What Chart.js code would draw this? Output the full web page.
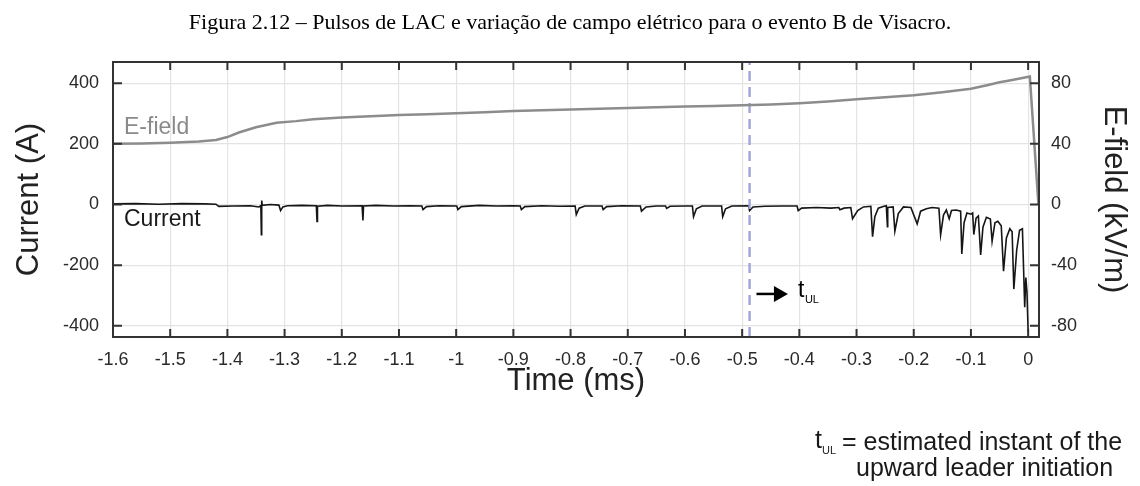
<!DOCTYPE html>
<html lang="pt-br">
<head>
    <meta charset="UTF-8">
    <title>Figura 2.12 - Pulsos de LAC</title>
    <script src="https://cdn.jsdelivr.net/npm/chart.js"></script>
    <style>
        body { margin: 0; background: white; }
        canvas { display: block; }
    </style>
</head>
<body>
    <canvas id="grafico" width="1140" height="486"></canvas>
<script>
    // eixo x (ms)
    const xTicks = [-1.6, -1.5, -1.4, -1.3, -1.2, -1.1, -1, -0.9, -0.8, -0.7, -0.6, -0.5, -0.4, -0.3, -0.2, -0.1, 0];
    const correnteTicks = [-400, -200, 0, 200, 400];
    const campoTicks = [-80, -40, 0, 40, 80];

    // corrente (A)
    const correnteT = [
        -1.600, -1.560, -1.520, -1.480, -1.440, -1.420, -1.415, -1.390, -1.360, -1.345,
        -1.3415, -1.3406, -1.3400, -1.3390, -1.325, -1.310, -1.307, -1.303, -1.295, -1.270,
        -1.2445, -1.2433, -1.2425, -1.225, -1.200, -1.1645, -1.163, -1.162, -1.140, -1.110,
        -1.080, -1.060, -1.058, -1.052, -1.030, -0.999, -0.997, -0.991, -0.960, -0.930,
        -0.900, -0.888, -0.886, -0.880, -0.850, -0.820, -0.792, -0.790, -0.785, -0.775,
        -0.745, -0.743, -0.737, -0.710, -0.678, -0.676, -0.668, -0.650, -0.634, -0.632,
        -0.626, -0.600, -0.587, -0.585, -0.580, -0.570, -0.536, -0.534, -0.529, -0.518,
        -0.489, -0.487, -0.481, -0.460, -0.430, -0.404, -0.402, -0.396, -0.370, -0.345,
        -0.331, -0.329, -0.322, -0.310, -0.307, -0.298, -0.288, -0.275, -0.272, -0.268,
        -0.262, -0.252, -0.248, -0.246, -0.2455, -0.236, -0.233, -0.227, -0.218, -0.205,
        -0.194, -0.188, -0.178, -0.168, -0.156, -0.153, -0.148, -0.143, -0.138, -0.134,
        -0.126, -0.118, -0.116, -0.112, -0.107, -0.100, -0.097, -0.095, -0.091, -0.087,
        -0.083, -0.079, -0.073, -0.066, -0.063, -0.058, -0.053, -0.047, -0.043, -0.038,
        -0.032, -0.028, -0.025, -0.020, -0.015, -0.010, -0.006, -0.004, -0.002, 0.000
    ];
    const correnteA = [
        2, 3, 1, 3, 2, 1, -6, -5, -4, -8,
        -4, -100, 13, -3, 0, -2, -20, -8, -4, -3,
        -4, -56, -6, -3, -5, -4, -53, -5, -3, -5,
        -4, -5, -17, -7, -4, -5, -17, -7, -3, -5,
        -4, -5, -17, -7, -4, -6, -5, -33, -12, -5,
        -5, -17, -7, -4, -5, -22, -8, -5, -5, -13,
        -6, -5, -5, -40, -14, -5, -5, -40, -14, -5,
        -4, -20, -8, -6, -5, -5, -20, -12, -10, -12,
        -10, -17, -12, -10, -47, -20, -8, -6, -106, -40,
        -12, -6, -4, -73, -10, -8, -88, -30, -8, -10,
        -64, -22, -14, -10, -12, -100, -35, -18, -47, -20,
        -18, -22, -163, -60, -28, -32, -28, -99, -45, -38,
        -166, -75, -42, -48, -121, -60, -55, -70, -220, -110,
        -80, -90, -279, -150, -85, -80, -339, -241, -290, -420
    ];

    // campo elétrico (kV/m)
    const campoT = [
        -1.600, -1.550, -1.500, -1.450, -1.420, -1.400, -1.380, -1.350, -1.314, -1.280,
        -1.250, -1.200, -1.150, -1.100, -1.050, -1.000, -0.950, -0.900, -0.850, -0.800,
        -0.750, -0.700, -0.650, -0.600, -0.550, -0.500, -0.450, -0.400, -0.350, -0.300,
        -0.250, -0.200, -0.150, -0.100, -0.070, -0.050, -0.030, -0.010, 0.003, 0.018
    ];
    const campoKV = [
        40, 40.3, 40.8, 41.5, 42.5, 44.5, 47.5, 51, 53.9, 55,
        56.3, 57.4, 58.2, 59, 59.6, 60.2, 60.8, 61.6, 62.2, 62.7,
        63.2, 63.7, 64.2, 64.6, 65, 65.4, 66, 66.8, 68, 69.5,
        70.8, 72, 74, 76.3, 78.8, 80.6, 82, 83.5, 84.4, 0
    ];

    // instante estimado t_UL
    const tUL = [-0.487, -0.487];
    const tULy = [-437, 470];

    const fonte = '"Liberation Sans", Arial, sans-serif';

    function pontos(xs, ys) {
        return xs.map((x, i) => ({ x: x, y: ys[i] }));
    }

    function fixarTicks(lista) {
        return function (scale) {
            scale.ticks = lista.map(v => ({ value: v }));
        };
    }

    // moldura, ticks para dentro e textos
    const molduraPlugin = {
        id: 'moldura',
        afterDatasetsDraw(chart) {
            const ctx = chart.ctx;
            const a = chart.chartArea;
            const sx = chart.scales.x, sy = chart.scales.y, sy2 = chart.scales.y2;
            ctx.save();
            ctx.strokeStyle = '#333';
            ctx.lineWidth = 2;
            ctx.beginPath();
            xTicks.forEach(v => {
                const px = sx.getPixelForValue(v);
                ctx.moveTo(px, a.bottom); ctx.lineTo(px, a.bottom - 8);
                ctx.moveTo(px, a.top); ctx.lineTo(px, a.top + 8);
            });
            correnteTicks.forEach(v => {
                const py = sy.getPixelForValue(v);
                ctx.moveTo(a.left, py); ctx.lineTo(a.left + 9, py);
            });
            campoTicks.forEach(v => {
                const py = sy2.getPixelForValue(v);
                ctx.moveTo(a.right, py); ctx.lineTo(a.right - 9, py);
            });
            ctx.stroke();
            ctx.strokeRect(a.left, a.top, a.right - a.left, a.bottom - a.top);

            // rótulos das curvas
            ctx.font = '23px ' + fonte;
            ctx.textBaseline = 'middle';
            ctx.textAlign = 'left';
            ctx.fillStyle = '#8a8a8a';
            ctx.fillText('E-field', 124, 128);
            ctx.fillStyle = '#1a1a1a';
            ctx.fillText('Current', 124, 220);

            // seta t_UL
            const x0 = sx.getPixelForValue(-0.475);
            const x1 = sx.getPixelForValue(-0.420);
            const ya = sy.getPixelForValue(-295);
            ctx.strokeStyle = '#000';
            ctx.lineWidth = 2.5;
            ctx.beginPath();
            ctx.moveTo(x0, ya); ctx.lineTo(x1 - 8, ya);
            ctx.stroke();
            ctx.fillStyle = '#000';
            ctx.beginPath();
            ctx.moveTo(x1, ya); ctx.lineTo(x1 - 14, ya - 8); ctx.lineTo(x1 - 14, ya + 8);
            ctx.closePath();
            ctx.fill();
            ctx.font = '23px ' + fonte;
            ctx.fillText('t', x1 + 10, ya - 3);
            ctx.font = '11px ' + fonte;
            ctx.fillText('UL', x1 + 17, ya + 6);
            ctx.restore();
        },
        afterDraw(chart) {
            const ctx = chart.ctx;
            ctx.save();
            ctx.fillStyle = '#000';
            ctx.textBaseline = 'middle';
            ctx.textAlign = 'center';
            ctx.font = '22px "Liberation Serif", "Times New Roman", serif';
            ctx.fillText('Figura 2.12 – Pulsos de LAC e variação de campo elétrico para o evento B de Visacro.', 570, 23);

            ctx.textAlign = 'left';
            ctx.fillStyle = '#1a1a1a';
            ctx.font = '25px ' + fonte;
            ctx.fillText('t', 815, 441);
            ctx.font = '11px ' + fonte;
            ctx.fillText('UL', 822, 451);
            ctx.font = '25px ' + fonte;
            ctx.fillText('= estimated instant of the', 842, 443);
            ctx.fillText('upward leader initiation', 856, 469);
            ctx.restore();
        }
    };

    const ctx = document.getElementById('grafico').getContext('2d');
    new Chart(ctx, {
        type: 'line',
        data: {
            datasets: [{
                label: 'E-field',
                data: pontos(campoT, campoKV),
                yAxisID: 'y2',
                borderColor: '#8c8c8c',
                borderWidth: 2.5,
                pointRadius: 0,
                tension: 0
            }, {
                label: 't_UL',
                data: pontos(tUL, tULy),
                yAxisID: 'y',
                borderColor: '#a3a7da',
                borderWidth: 2.5,
                borderDash: [10, 6],
                pointRadius: 0
            }, {
                label: 'Current',
                data: pontos(correnteT, correnteA),
                yAxisID: 'y',
                borderColor: '#151515',
                borderWidth: 1.6,
                pointRadius: 0,
                tension: 0
            }]
        },
        options: {
            responsive: false,
            animation: false,
            devicePixelRatio: 1,
            layout: { padding: { top: 62, left: 0, right: 0, bottom: 0 } },
            plugins: {
                legend: { display: false },
                tooltip: { enabled: false }
            },
            scales: {
                x: {
                    type: 'linear',
                    min: -1.6,
                    max: 0.019,
                    afterBuildTicks: fixarTicks(xTicks),
                    afterFit(scale) { scale.height = 149; },
                    grid: { color: '#e4e4e4', lineWidth: 1.2, drawTicks: false },
                    border: { display: false },
                    ticks: {
                        padding: 12,
                        color: '#2a2a2a',
                        font: { family: fonte, size: 18 },
                        maxRotation: 0,
                        autoSkip: false,
                        callback: v => String(Math.round(v * 10) / 10)
                    },
                    title: {
                        display: true,
                        text: 'Time (ms)',
                        color: '#222',
                        font: { family: fonte, size: 31 },
                        padding: { top: 0, bottom: 86 }
                    }
                },
                y: {
                    position: 'left',
                    min: -437,
                    max: 470,
                    afterBuildTicks: fixarTicks(correnteTicks),
                    afterFit(scale) { scale.width = 113; },
                    grid: { color: '#e4e4e4', lineWidth: 1.2, drawTicks: false },
                    border: { display: false },
                    ticks: {
                        padding: 14,
                        color: '#2a2a2a',
                        font: { family: fonte, size: 18 }
                    },
                    title: {
                        display: true,
                        text: 'Current (A)',
                        color: '#222',
                        font: { family: fonte, size: 31 },
                        padding: { top: 11, bottom: 0 }
                    }
                },
                y2: {
                    position: 'right',
                    min: -87.4,
                    max: 94,
                    afterBuildTicks: fixarTicks(campoTicks),
                    afterFit(scale) { scale.width = 101; },
                    grid: { display: false, drawTicks: false },
                    border: { display: false },
                    ticks: {
                        padding: 12,
                        color: '#2a2a2a',
                        font: { family: fonte, size: 18 }
                    },
                    title: {
                        display: true,
                        text: 'E-field (kV/m)',
                        color: '#222',
                        font: { family: fonte, size: 31 },
                        padding: { top: 8, bottom: 0 }
                    }
                }
            }
        },
        plugins: [molduraPlugin]
    });
</script>
</body>
</html>
